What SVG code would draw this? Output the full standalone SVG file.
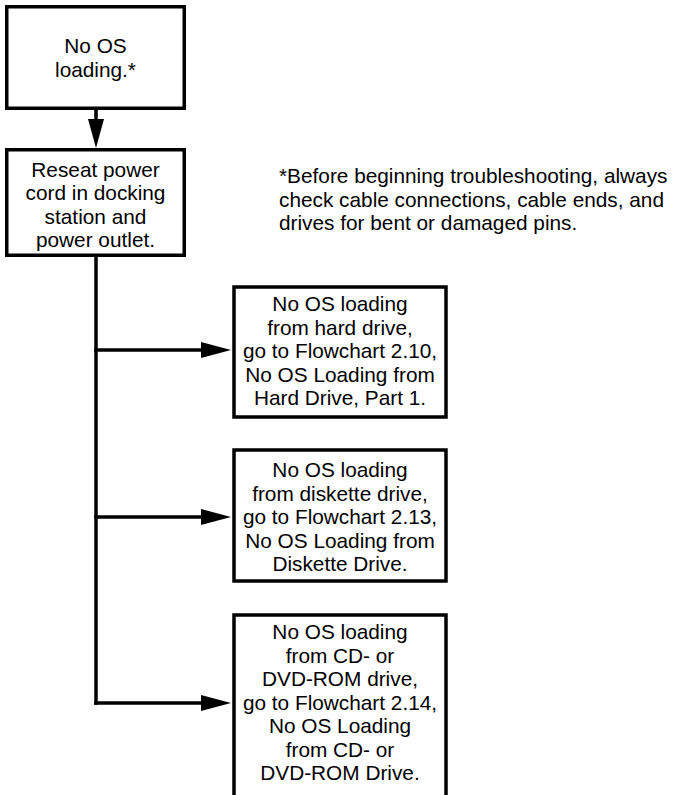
<svg xmlns="http://www.w3.org/2000/svg" width="683" height="795" viewBox="0 0 683 795">
<defs>
<style>
.box{fill:#fff;stroke:#000;stroke-width:3.5}
.t{font-family:"Liberation Sans",Arial,sans-serif;font-size:20.8px;fill:#000;text-anchor:middle}
.n{font-family:"Liberation Sans",Arial,sans-serif;font-size:20.8px;fill:#000}
.ln{stroke:#000;stroke-width:3.5;fill:none}
.ah{fill:#000}
</style>
</defs>
<rect width="683" height="795" fill="#fff"/>
<g id="connectors">
<line class="ln" x1="96" y1="109" x2="96" y2="122"/>
<polygon class="ah" points="88,119 104,119 96,148"/>
<line class="ln" x1="96" y1="256" x2="96" y2="704.75"/>
<line class="ln" x1="94.25" y1="350" x2="204" y2="350"/>
<polygon class="ah" points="201,342 201,358 231,350"/>
<line class="ln" x1="94.25" y1="517" x2="204" y2="517"/>
<polygon class="ah" points="201,509 201,525 231,517"/>
<line class="ln" x1="94.25" y1="703" x2="204" y2="703"/>
<polygon class="ah" points="201,695 201,711 231,703"/>
</g>
<g id="n1">
<rect class="box" x="6.75" y="6.75" width="177.5" height="101.5"/>
<text class="t" x="95.5" y="53">No OS</text>
<text class="t" x="95.5" y="76.5">loading.*</text>
</g>
<g id="n2">
<rect class="box" x="6.75" y="149.75" width="177.5" height="105.5"/>
<text class="t" x="95.5" y="176.5">Reseat power</text>
<text class="t" x="95.5" y="200">cord in docking</text>
<text class="t" x="95.5" y="223.5">station and</text>
<text class="t" x="95.5" y="247">power outlet.</text>
</g>
<g id="note">
<text class="n" x="279" y="183">*Before beginning troubleshooting, always</text>
<text class="n" x="279" y="206.5">check cable connections, cable ends, and</text>
<text class="n" x="279" y="230">drives for bent or damaged pins.</text>
</g>
<g id="n3">
<rect class="box" x="234" y="287" width="212" height="130"/>
<text class="t" x="340" y="311">No OS loading</text>
<text class="t" x="340" y="334.5">from hard drive,</text>
<text class="t" x="340" y="358">go to Flowchart 2.10,</text>
<text class="t" x="340" y="381.5">No OS Loading from</text>
<text class="t" x="340" y="405">Hard Drive, Part 1.</text>
</g>
<g id="n4">
<rect class="box" x="234" y="450" width="212" height="131"/>
<text class="t" x="340" y="477">No OS loading</text>
<text class="t" x="340" y="500.5">from diskette drive,</text>
<text class="t" x="340" y="524">go to Flowchart 2.13,</text>
<text class="t" x="340" y="547.5">No OS Loading from</text>
<text class="t" x="340" y="571">Diskette Drive.</text>
</g>
<g id="n5">
<rect class="box" x="234" y="615" width="212" height="200"/>
<text class="t" x="340" y="639">No OS loading</text>
<text class="t" x="340" y="662.5">from CD- or</text>
<text class="t" x="340" y="686">DVD-ROM drive,</text>
<text class="t" x="340" y="709.5">go to Flowchart 2.14,</text>
<text class="t" x="340" y="733">No OS Loading</text>
<text class="t" x="340" y="756.5">from CD- or</text>
<text class="t" x="340" y="780">DVD-ROM Drive.</text>
</g>
</svg>
